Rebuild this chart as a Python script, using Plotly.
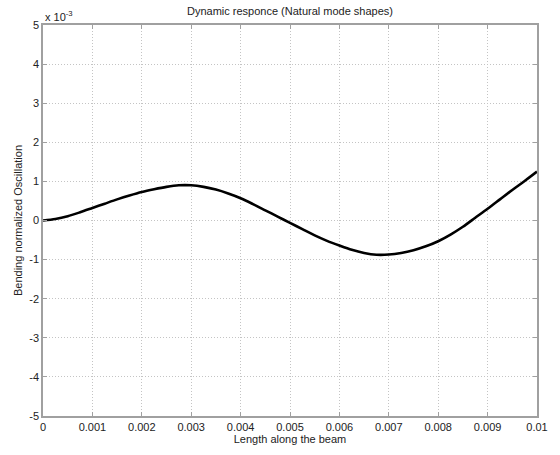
import plotly.graph_objects as go

x_len = [0, 0.00025, 0.0005, 0.00075, 0.001, 0.00125, 0.0015, 0.00175, 0.002, 0.00225, 0.0025, 0.00275,
         0.003, 0.00325, 0.0035, 0.00375, 0.004, 0.00425, 0.0045, 0.00475, 0.005, 0.00525, 0.0055, 0.00575,
         0.006, 0.00625, 0.0065, 0.00675, 0.007, 0.00725, 0.0075, 0.00775, 0.008, 0.00825, 0.0085, 0.00875,
         0.009, 0.00925, 0.0095, 0.00975, 0.01]
y_osc = [0, 0.04, 0.11, 0.21, 0.32, 0.43, 0.54, 0.64, 0.73, 0.8, 0.86, 0.9,
         0.9, 0.86, 0.79, 0.69, 0.57, 0.42, 0.26, 0.1, -0.06, -0.22, -0.38, -0.52,
         -0.64, -0.75, -0.83, -0.875, -0.87, -0.83, -0.76, -0.66, -0.53, -0.36, -0.16, 0.07,
         0.3, 0.54, 0.78, 1.01, 1.25]
y_scaled = [v * 1e-3 for v in y_osc]

x_ticks = [0, 0.001, 0.002, 0.003, 0.004, 0.005, 0.006, 0.007, 0.008, 0.009, 0.01]
x_tick_text = ["0", "0.001", "0.002", "0.003", "0.004", "0.005", "0.006", "0.007", "0.008", "0.009", "0.01"]
y_ticks = [-5e-3, -4e-3, -3e-3, -2e-3, -1e-3, 0, 1e-3, 2e-3, 3e-3, 4e-3, 5e-3]
y_tick_text = ["-5", "-4", "-3", "-2", "-1", "0", "1", "2", "3", "4", "5"]

font = "Liberation Sans, Arial, sans-serif"

fig = go.Figure()
fig.add_trace(go.Scatter(x=x_len, y=y_scaled, mode="lines",
                         line=dict(color="black", width=2.6, shape="spline", smoothing=0.8),
                         showlegend=False))

axis_common = dict(showgrid=True, gridcolor="#c4c4c4", griddash="1px,2px", gridwidth=1,
                   showline=True, linecolor="#a0a0a0", linewidth=1.5, mirror="ticks",
                   ticks="inside", ticklen=4, tickcolor="#a0a0a0", zeroline=False,
                   tickfont=dict(family=font, size=11, color="#222"))

fig.update_xaxes(range=[0, 0.01], tickvals=x_ticks, ticktext=x_tick_text,
                 title=dict(text="Length along the beam", font=dict(family=font, size=11, color="#222"), standoff=2),
                 **axis_common)
fig.update_yaxes(range=[-5e-3, 5e-3], tickvals=y_ticks, ticktext=y_tick_text,
                 title=dict(text="Bending normalized Oscillation", font=dict(family=font, size=11, color="#222"), standoff=4),
                 **axis_common)

fig.update_layout(
    width=560, height=455,
    margin=dict(l=43, r=17, t=25, b=36),
    paper_bgcolor="white", plot_bgcolor="white",
    title=dict(text="Dynamic responce (Natural mode shapes)", x=0.5, xanchor="center",
               xref="paper", y=0.975, yanchor="middle", font=dict(family=font, size=11, color="#222")),
    annotations=[dict(text="x 10<sup>-3</sup>", xref="paper", yref="paper", x=0, y=1.0,
                      xanchor="left", yanchor="bottom", showarrow=False,
                      font=dict(family=font, size=11, color="#222"))],
)

fig.write_html("out.html")
